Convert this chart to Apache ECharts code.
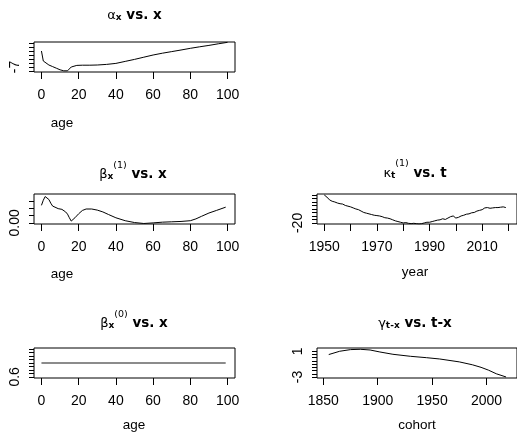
<!DOCTYPE html>
<html><head><meta charset="utf-8">
<script src="https://cdn.jsdelivr.net/npm/echarts@6/dist/echarts.min.js"></script>
<style>html,body{margin:0;padding:0;background:#fff}#c{width:517px;height:437px}</style>
</head><body><div id="c"></div>
<script>
// ---- alpha_x vs. x ----
const alphaAges = [0,1,2,4,6,8,10,12,13,14,15,16,17,19,22,26,30,35,40,45,50,55,60,65,70,75,80,85,90,95,100];
const alphaVals = [-3.0,-5.5,-6.0,-6.5,-6.9,-7.3,-7.7,-7.95,-8.0,-7.95,-7.5,-7.0,-6.75,-6.6,-6.55,-6.55,-6.5,-6.35,-6.1,-5.6,-5.1,-4.55,-4.0,-3.55,-3.15,-2.75,-2.33,-1.95,-1.6,-1.2,-0.83];
const alphaYTicks = [-8,-7,-6,-5,-4,-3,-2,-1];
const alphaYLabels = [-7];

// ---- beta^(1)_x vs. x ----
const beta1Ages = [0,1,2,3,4,5,6,7,9,11,13,14,15,16,17,18,20,22,24,27,30,33,36,40,45,50,55,60,65,70,75,80,83,86,90,94,99];
const beta1Vals = [0.024,0.031,0.036,0.037,0.032,0.027,0.023,0.021,0.0195,0.0185,0.015,0.012,0.007,0.0025,0.004,0.007,0.0125,0.017,0.019,0.019,0.0175,0.015,0.0115,0.007,0.003,0.0005,-0.0008,0.0,0.001,0.0015,0.002,0.003,0.0055,0.009,0.0135,0.017,0.0215];
const beta1YTicks = [0,0.01,0.02,0.03];
const beta1YLabels = [0];

// ---- kappa^(1)_t vs. t ----
const years = [1950,1951,1952,1953,1954,1955,1956,1957,1958,1959,1960,1961,1962,1963,1964,1965,1966,1967,1968,1969,1970,1971,1972,1973,1974,1975,1976,1977,1978,1979,1980,1981,1982,1983,1984,1985,1986,1987,1988,1989,1990,1991,1992,1993,1994,1995,1996,1997,1998,1999,2000,2001,2002,2003,2004,2005,2006,2007,2008,2009,2010,2011,2012,2013,2014,2015,2016,2017,2018,2019];
const kappaVals = [20,17,13,11,10,8.5,7.5,7,5,4,3,1.5,0,-1,-3,-5,-6,-7,-8,-9,-9.5,-10,-11,-12.5,-13,-14,-15.5,-17,-18,-19,-20,-19.5,-20.5,-21,-20.5,-21,-21.5,-21,-20,-19,-19,-18,-17,-16,-15.5,-14,-15,-13,-11,-10,-13,-12,-10,-9,-7.5,-7,-5.5,-5,-3,-2,-1,1.5,2,1,1.5,2,2,2.5,3,2];
const kappaXTicks = [1950,1960,1970,1980,1990,2000,2010,2020];
const kappaXLabels = [1950,1970,1990,2010];
const kappaYTicks = [-20,-15,-10,-5,0,5,10,15,20];
const kappaYLabels = [-20];

// ---- beta^(0)_x vs. x ----
const beta0Ages = [0,25,50,75,99];
const beta0Vals = [1,1,1,1,1];
const beta0YTicks = [0.6,0.7,0.8,0.9,1.0,1.1,1.2,1.3,1.4];
const beta0YLabels = [0.6];

// ---- gamma_{t-x} vs. t-x ----
const cohorts = [1855,1865,1875,1884,1893,1902,1914,1930,1945,1957,1975,1987,1995,2002,2009,2018];
const gammaVals = [0.49,1.0,1.26,1.31,1.2,0.89,0.53,0.22,0.0,-0.2,-0.65,-1.1,-1.5,-1.95,-2.5,-3.0];
const gammaXTicks = [1850,1900,1950,2000];
const gammaYTicks = [-3,-2.5,-2,-1.5,-1,-0.5,0,0.5,1];
const gammaYLabels = [-3,1];

const ageTicks = [0,20,40,60,80,100];

const LF = 'Liberation Sans, Arial, sans-serif';
const TF = 'DejaVu Sans, sans-serif';

function xAx(gi, min, max, ticks, labels) {
  return {type:'value', gridIndex:gi, min:min, max:max, position:'bottom',
    axisLine:{show:false, onZero:false}, splitLine:{show:false},
    axisTick:{show:true, customValues:ticks, length:7, lineStyle:{color:'#000', width:1}},
    axisLabel:{customValues:labels, margin:16.5, fontSize:14, color:'#000', fontFamily:LF,
      formatter: v=>String(v)}};
}
function yAx(gi, min, max, ticks, labels, fmt) {
  return {type:'value', gridIndex:gi, min:min, max:max, position:'left',
    axisLine:{show:false, onZero:false}, splitLine:{show:false},
    axisTick:{show:true, customValues:ticks, length:5, lineStyle:{color:'#000', width:1}},
    axisLabel:{customValues:labels, rotate:90, margin:12, fontSize:14, color:'#000', fontFamily:LF,
      formatter: fmt}};
}
function grid(l,t,w,h){return {left:l, top:t, width:w, height:h, show:true, borderColor:'#000', borderWidth:1, backgroundColor:'transparent'};}
function zip(a,b){return a.map((v,i)=>[v,b[i]]);}
function line(gi, data, color, w){
  return {type:'line', xAxisIndex:gi, yAxisIndex:gi, data:data, showSymbol:false, symbol:'none',
    lineStyle:{color:color, width:w}, silent:true, animation:false};
}

const rich = {
  g:{fontFamily:TF, fontSize:13, fontWeight:'normal', color:'#000', verticalAlign:'bottom', lineHeight:16},
  s:{fontFamily:TF, fontSize:9, fontWeight:'bold', color:'#000', verticalAlign:'bottom', lineHeight:13},
  p:{fontFamily:TF, fontSize:9.5, fontWeight:'normal', color:'#000', verticalAlign:'bottom', lineHeight:11, padding:[0,0,11,0]},
  b:{fontFamily:TF, fontSize:13.5, fontWeight:'bold', color:'#000', verticalAlign:'bottom', lineHeight:16}
};
function title(txt, x, yb){
  return {type:'text', silent:true, style:{text:txt, x:x, y:yb, align:'center', verticalAlign:'bottom',
    textAlign:'center', textVerticalAlign:'bottom', rich:rich, fill:'#000'}};
}
function axTitle(txt, x, y){
  return {type:'text', silent:true, style:{text:txt, x:x, y:y, align:'center', verticalAlign:'middle',
    textAlign:'center', textVerticalAlign:'middle', fontSize:13.5, fontFamily:LF, fill:'#000'}};
}

const chart = echarts.init(document.getElementById('c'), null, {renderer:'canvas'});
chart.setOption({
  animation:false,
  backgroundColor:'#fff',
  grid:[grid(34,42,201,30), grid(34,194,201,30), grid(317,194,201,30), grid(34,348,201,30), grid(317,348,201,30)],
  xAxis:[
    xAx(0,-4,104,ageTicks,ageTicks),
    xAx(1,-4,104,ageTicks,ageTicks),
    xAx(2,1947.24,2023.24,kappaXTicks,kappaXLabels),
    xAx(3,-4,104,ageTicks,ageTicks),
    xAx(4,1844.2,2028.05,gammaXTicks,gammaXTicks)
  ],
  yAxis:[
    yAx(0,-8.25,-0.75,alphaYTicks,alphaYLabels,v=>String(v)),
    yAx(1,-0.0015,0.0395,beta1YTicks,beta1YLabels,v=>Number(v).toFixed(2)),
    yAx(2,-21.5,21.4,kappaYTicks,kappaYLabels,v=>String(v)),
    yAx(3,0.568,1.432,beta0YTicks,beta0YLabels,v=>Number(v).toFixed(1)),
    yAx(4,-3.16,1.51,gammaYTicks,gammaYLabels,v=>String(v))
  ],
  series:[
    line(0, zip(alphaAges,alphaVals), '#000', 1),
    line(1, zip(beta1Ages,beta1Vals), '#000', 1),
    line(2, zip(years,kappaVals), '#000', 1),
    line(3, zip(beta0Ages,beta0Vals), '#666', 1.3),
    line(4, zip(cohorts,gammaVals), '#000', 1)
  ],
  graphic:[
    title('{g|α}{s|x}{b| vs. x}', 134.5, 22.5),
    title('{g|β}{s|x}{p|(1)}{b| vs. x}', 133, 181.5),
    title('{g|κ}{s|t}{p|(1)}{b| vs. t}', 415, 180),
    title('{g|β}{s|x}{p|(0)}{b| vs. x}', 134, 330.5),
    title('{g|γ}{s|t-x}{b| vs. t-x}', 415, 330),
    axTitle('age', 62, 123),
    axTitle('age', 62, 274),
    axTitle('year', 415, 272),
    axTitle('age', 134, 425),
    axTitle('cohort', 417, 425)
  ]
});
</script></body></html>
